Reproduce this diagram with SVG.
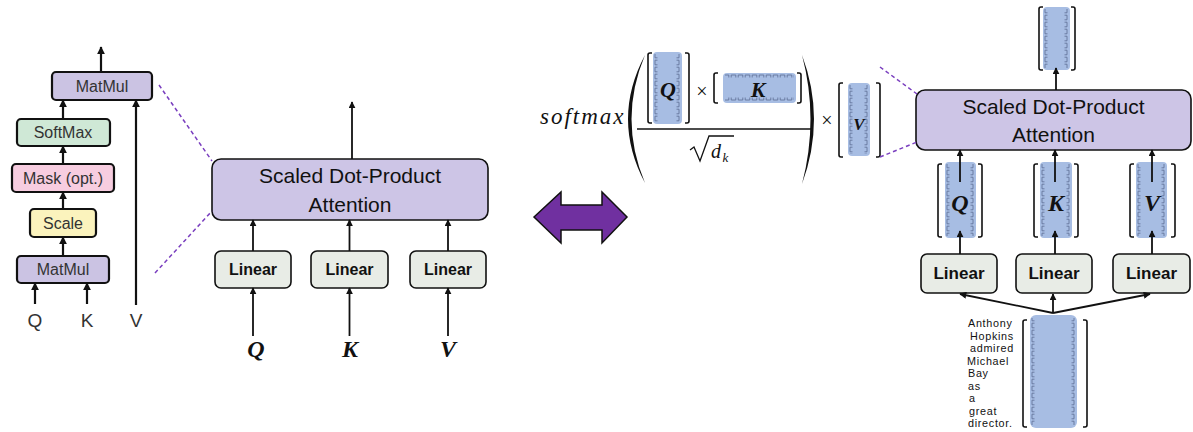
<svg xmlns="http://www.w3.org/2000/svg" width="1193" height="432" viewBox="0 0 1193 432">
<style>
.bg{fill:#fff}
.lb{stroke:#111;stroke-width:2.2}
.mb{stroke:#111;stroke-width:1.6}
.att{fill:#cdc5e6}
.lin{fill:#e8ece6}
.lt{font-family:"Liberation Sans",Arial,sans-serif;font-size:16px;fill:#333;text-anchor:middle}
.at{font-family:"Liberation Sans",Arial,sans-serif;font-size:21px;fill:#111;text-anchor:middle}
.lnt{font-family:"Liberation Sans",Arial,sans-serif;font-size:16px;font-weight:bold;fill:#111;text-anchor:middle}
.mi{font-family:"Liberation Serif","Times New Roman",serif;font-style:italic;font-weight:bold;fill:#111;text-anchor:middle}
.sm{font-family:"Liberation Serif","Times New Roman",serif;font-style:italic;fill:#111}
.wd{font-family:"Liberation Sans",Arial,sans-serif;font-size:10.8px;letter-spacing:0.7px;fill:#111}
.ar{stroke:#111;stroke-width:1.8;fill:none;marker-end:url(#ah)}
.arl{stroke:#111;stroke-width:2.2;fill:none;marker-end:url(#ahl)}
.dash{stroke:#7a3fbf;stroke-width:1.5;stroke-dasharray:4 3;fill:none}
.vb{fill:#a7bde3}
.brk{fill:none;stroke:#111;stroke-width:1.6}
</style>
<defs>
<marker id="ah" viewBox="0 0 10 10" refX="9" refY="5" markerWidth="7" markerHeight="7" markerUnits="userSpaceOnUse" orient="auto"><path d="M0,0 L10,5 L0,10 z" fill="#111"/></marker>
<marker id="ahl" viewBox="0 0 10 10" refX="9" refY="5" markerWidth="8" markerHeight="8" markerUnits="userSpaceOnUse" orient="auto"><path d="M0,0 L10,5 L0,10 z" fill="#111"/></marker>
<pattern id="tL" width="100" height="7" patternUnits="userSpaceOnUse"><path d="M4.5,1.2 H2 V5.8 H4.5" fill="none" stroke="#5b6b92" stroke-width="0.8"/></pattern>
<pattern id="tR" width="100" height="7" patternUnits="userSpaceOnUse"><path d="M0.5,1.2 H3 V5.8 H0.5" fill="none" stroke="#5b6b92" stroke-width="0.8"/></pattern>
<pattern id="tT" width="7" height="100" patternUnits="userSpaceOnUse"><path d="M1.2,4.5 V2 H5.8 V4.5" fill="none" stroke="#5b6b92" stroke-width="0.8"/></pattern>
<pattern id="tB" width="7" height="100" patternUnits="userSpaceOnUse"><path d="M1.2,0.5 V3 H5.8 V0.5" fill="none" stroke="#5b6b92" stroke-width="0.8"/></pattern>
</defs>
<rect class="bg" width="1193" height="432"/>

<!-- Left panel: scaled dot-product attention internals -->
<g id="l-matmul-top"><rect class="lb" x="52" y="72" width="100" height="28" rx="4" fill="#cbc3e3"/><text class="lt" x="102" y="92">MatMul</text></g>
<g id="l-softmax"><rect class="lb" x="17" y="119" width="93" height="27" rx="4" fill="#cfe8d6"/><text class="lt" x="63" y="138">SoftMax</text></g>
<g id="l-mask"><rect class="lb" x="12" y="164" width="102" height="28" rx="4" fill="#f7cde0"/><text class="lt" x="63" y="184">Mask (opt.)</text></g>
<g id="l-scale"><rect class="lb" x="30" y="209" width="66" height="28" rx="4" fill="#fbf3bd"/><text class="lt" x="63" y="229">Scale</text></g>
<g id="l-matmul-bot"><rect class="lb" x="17" y="256" width="92" height="27" rx="4" fill="#cbc3e3"/><text class="lt" x="63" y="275">MatMul</text></g>
<g id="l-labels">
<text class="lt" x="35" y="327" style="font-size:19px">Q</text>
<text class="lt" x="87" y="327" style="font-size:19px">K</text>
<text class="lt" x="136" y="327" style="font-size:19px">V</text>
</g>

<!-- Middle panel -->
<g id="m-attn"><rect class="mb att" x="212" y="159" width="276" height="61" rx="9"/><text class="at" x="350" y="183">Scaled Dot-Product</text><text class="at" x="350" y="212">Attention</text></g>
<g id="m-lin1"><rect class="mb lin" x="215" y="251" width="76" height="37" rx="6"/><text class="lnt" x="253" y="275">Linear</text></g>
<g id="m-lin2"><rect class="mb lin" x="311" y="251" width="77" height="37" rx="6"/><text class="lnt" x="349.5" y="275">Linear</text></g>
<g id="m-lin3"><rect class="mb lin" x="410" y="251" width="76" height="37" rx="6"/><text class="lnt" x="448" y="275">Linear</text></g>
<g id="m-labels">
<text class="mi" x="256" y="357" style="font-size:24px">Q</text>
<text class="mi" x="350" y="357" style="font-size:24px">K</text>
<text class="mi" x="448" y="357" style="font-size:24px">V</text>
</g>

<!-- Double arrow -->
<g id="equiv"><polygon points="534,217 561,192 561,205 602,205 602,192 627,217 602,243 602,230 561,230 561,243" fill="#7030a0" stroke="#111" stroke-width="1.5" stroke-linejoin="miter"/></g>

<!-- Formula -->
<g id="formula">
<text class="sm" x="540" y="124" style="font-size:23px;letter-spacing:2px">softmax</text>
<path d="M645,55 Q611,119 645,183 Q618,119 645,55 Z" fill="#111"/>
<path d="M802,55 Q826,119 802,184 Q819,119 802,55 Z" fill="#111"/>
<line x1="637" y1="129" x2="812" y2="129" stroke="#111" stroke-width="1.5"/>
<path d="M690,150 L694,147 L700,161 L709,136 H734" fill="none" stroke="#111" stroke-width="1.3"/>
<text class="sm" x="711" y="158" style="font-size:20px">d</text>
<text class="sm" x="722.5" y="162" style="font-size:13px">k</text>
<text class="sm" x="702" y="98" style="font-size:20px;font-style:normal;text-anchor:middle">×</text>
<text class="sm" x="827" y="127" style="font-size:20px;font-style:normal;text-anchor:middle">×</text>
<g id="f-q">
<g transform="translate(653,52)"><rect class="vb" width="29" height="72" rx="4"/><rect x="1" y="2" width="5" height="68" fill="url(#tL)"/><g transform="translate(23,0)"><rect y="2" width="5" height="68" fill="url(#tR)"/></g></g>
<path class="brk" d="M652,53 H650 Q648,53 648,55 V121 Q648,123 650,123 H652"/>
<path class="brk" d="M685,53 H687 Q689,53 689,55 V121 Q689,123 687,123 H685"/>
<text class="mi" x="668" y="97" style="font-size:22px">Q</text>
</g>
<g id="f-k">
<g transform="translate(723,73)"><rect class="vb" width="73" height="30" rx="4"/><rect x="2" y="1" width="69" height="5" fill="url(#tT)"/><g transform="translate(0,24)"><rect x="2" width="69" height="5" fill="url(#tB)"/></g></g>
<path class="brk" d="M718,73 H716 Q714,73 714,75 V101 Q714,103 716,103 H718"/>
<path class="brk" d="M797,73 H799 Q801,73 801,75 V101 Q801,103 799,103 H797"/>
<text class="mi" x="758" y="97" style="font-size:22px">K</text>
</g>
<g id="f-v">
<g transform="translate(848,83)"><rect class="vb" width="22" height="73" rx="4"/><rect x="1" y="2" width="5" height="69" fill="url(#tL)"/><g transform="translate(16,0)"><rect y="2" width="5" height="69" fill="url(#tR)"/></g></g>
<path class="brk" d="M843,83 H841 Q839,83 839,85 V155 Q839,157 841,157 H843"/>
<path class="brk" d="M876,83 H878 Q880,83 880,85 V155 Q880,157 878,157 H876"/>
<text class="mi" x="859" y="130" style="font-size:17px">V</text>
</g>
</g>

<!-- Right panel -->
<g id="r-attn"><rect class="mb att" x="916" y="90" width="275" height="60" rx="9"/><text class="at" x="1053.5" y="114">Scaled Dot-Product</text><text class="at" x="1053.5" y="142">Attention</text></g>
<g id="r-out">
<g transform="translate(1043,7)"><rect class="vb" width="27" height="63" rx="4"/><rect x="1" y="2" width="5" height="59" fill="url(#tL)"/><g transform="translate(21,0)"><rect y="2" width="5" height="59" fill="url(#tR)"/></g></g>
<path class="brk" d="M1043,7 H1041 Q1039,7 1039,9 V68 Q1039,70 1041,70 H1043"/>
<path class="brk" d="M1071,7 H1073 Q1075,7 1075,9 V68 Q1075,70 1073,70 H1071"/>
</g>
<g id="r-q">
<g transform="translate(945,162)"><rect class="vb" width="31" height="76" rx="4"/><rect x="1" y="2" width="5" height="72" fill="url(#tL)"/><g transform="translate(25,0)"><rect y="2" width="5" height="72" fill="url(#tR)"/></g></g>
<path class="brk" d="M942,164 H940 Q938,164 938,166 V235 Q938,237 940,237 H942"/>
<path class="brk" d="M978,164 H980 Q982,164 982,166 V235 Q982,237 980,237 H978"/>
<text class="mi" x="960" y="211" style="font-size:24px">Q</text>
</g>
<g id="r-k">
<g transform="translate(1040,162)"><rect class="vb" width="32" height="76" rx="4"/><rect x="1" y="2" width="5" height="72" fill="url(#tL)"/><g transform="translate(26,0)"><rect y="2" width="5" height="72" fill="url(#tR)"/></g></g>
<path class="brk" d="M1038,164 H1036 Q1034,164 1034,166 V235 Q1034,237 1036,237 H1038"/>
<path class="brk" d="M1074,164 H1076 Q1078,164 1078,166 V235 Q1078,237 1076,237 H1074"/>
<text class="mi" x="1056" y="211" style="font-size:24px">K</text>
</g>
<g id="r-v">
<g transform="translate(1136,162)"><rect class="vb" width="31" height="76" rx="4"/><rect x="1" y="2" width="5" height="72" fill="url(#tL)"/><g transform="translate(25,0)"><rect y="2" width="5" height="72" fill="url(#tR)"/></g></g>
<path class="brk" d="M1134,164 H1132 Q1130,164 1130,166 V235 Q1130,237 1132,237 H1134"/>
<path class="brk" d="M1171,164 H1173 Q1175,164 1175,166 V235 Q1175,237 1173,237 H1171"/>
<text class="mi" x="1152" y="211" style="font-size:24px">V</text>
</g>
<g id="r-lin1"><rect class="mb lin" x="921" y="254" width="76" height="39" rx="6"/><text class="lnt" x="959" y="279" style="font-size:17px">Linear</text></g>
<g id="r-lin2"><rect class="mb lin" x="1016" y="254" width="76" height="39" rx="6"/><text class="lnt" x="1054" y="279" style="font-size:17px">Linear</text></g>
<g id="r-lin3"><rect class="mb lin" x="1113" y="254" width="77" height="39" rx="6"/><text class="lnt" x="1151.5" y="279" style="font-size:17px">Linear</text></g>
<g id="r-input">
<g transform="translate(1030,315)"><rect class="vb" width="47" height="113" rx="6"/><rect x="1" y="3" width="5" height="107" fill="url(#tL)"/><g transform="translate(41,0)"><rect y="3" width="5" height="107" fill="url(#tR)"/></g></g>
<path class="brk" d="M1027,320 H1025 Q1023,320 1023,322 V425 Q1023,427 1025,427 H1027"/>
<path class="brk" d="M1083,320 H1085 Q1087,320 1087,322 V425 Q1087,427 1085,427 H1083"/>
<text class="wd" x="968" y="327">Anthony</text>
<text class="wd" x="970" y="339.5">Hopkins</text>
<text class="wd" x="970" y="352">admired</text>
<text class="wd" x="967" y="364.5">Michael</text>
<text class="wd" x="968" y="377">Bay</text>
<text class="wd" x="968" y="389.5">as</text>
<text class="wd" x="969" y="402">a</text>
<text class="wd" x="969" y="414.5">great</text>
<text class="wd" x="968" y="427">director.</text>
</g>

<!-- Connectors -->
<g id="connectors">
<line class="arl" x1="101" y1="72" x2="101" y2="47"/>
<line class="arl" x1="63" y1="119" x2="63" y2="100"/>
<line class="arl" x1="63" y1="164" x2="63" y2="146"/>
<line class="arl" x1="63" y1="209" x2="63" y2="192"/>
<line class="arl" x1="63" y1="256" x2="63" y2="237"/>
<line class="arl" x1="35" y1="304" x2="35" y2="283"/>
<line class="arl" x1="87" y1="304" x2="87" y2="283"/>
<line class="arl" x1="136" y1="305" x2="136" y2="100"/>
<line class="dash" x1="159" y1="85" x2="212" y2="161"/>
<line class="dash" x1="155" y1="273" x2="212" y2="211"/>

<line class="ar" x1="352" y1="159" x2="352" y2="102"/>
<line class="ar" x1="253" y1="251" x2="253" y2="220"/>
<line class="ar" x1="349.5" y1="251" x2="349.5" y2="220"/>
<line class="ar" x1="448" y1="251" x2="448" y2="220"/>
<line class="ar" x1="253" y1="336" x2="253" y2="288"/>
<line class="ar" x1="349.5" y1="336" x2="349.5" y2="288"/>
<line class="ar" x1="448" y1="336" x2="448" y2="288"/>

<line class="dash" x1="880" y1="67" x2="917" y2="94"/>
<line class="dash" x1="880" y1="157" x2="917" y2="142"/>

<line class="ar" x1="1056" y1="90" x2="1056" y2="68"/>
<line class="ar" x1="960" y1="182" x2="960" y2="150"/>
<line class="ar" x1="1055" y1="182" x2="1055" y2="150"/>
<line class="ar" x1="1152" y1="182" x2="1152" y2="150"/>
<line class="ar" x1="960" y1="254" x2="960" y2="231"/>
<line class="ar" x1="1055" y1="254" x2="1055" y2="231"/>
<line class="ar" x1="1152" y1="254" x2="1152" y2="231"/>
<line class="ar" x1="1053" y1="313" x2="960" y2="294"/>
<line class="ar" x1="1053" y1="313" x2="1053" y2="294"/>
<line class="ar" x1="1053" y1="313" x2="1150" y2="294"/>
</g>
</svg>
